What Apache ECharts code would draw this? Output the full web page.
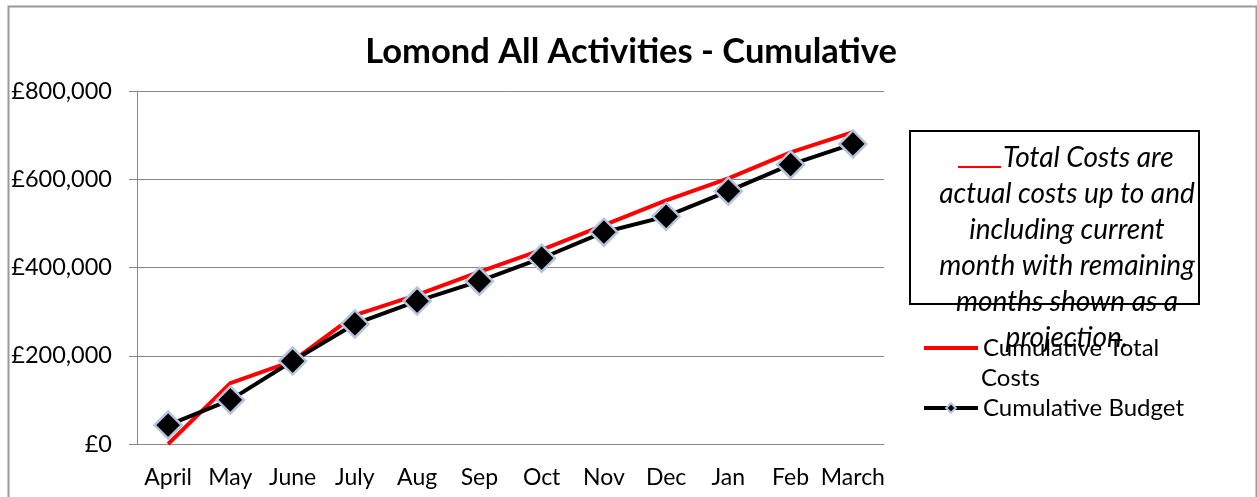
<!DOCTYPE html>
<html>
<head>
<meta charset="utf-8">
<script src="https://cdn.jsdelivr.net/npm/echarts@6/dist/echarts.min.js"></script>
<style>
  html, body { margin: 0; padding: 0; background: #fff; }
  #chart { width: 1257px; height: 497px; }
</style>
</head>
<body>
<div id="chart"></div>
<script>
const months = ["April", "May", "June", "July", "Aug", "Sep", "Oct", "Nov", "Dec", "Jan", "Feb", "March"];
const totalCosts = [0, 138000, 188000, 292000, 338000, 390000, 440000, 496000, 552000, 602000, 661000, 707000];
const budget = [43000, 100000, 188000, 272000, 324000, 369000, 421000, 480000, 516000, 573000, 633000, 680000];
const yTicks = [0, 200000, 400000, 600000, 800000];

const noteLines = [
  "Total Costs are",
  "actual costs up to and",
  "including current",
  "month with remaining",
  "months shown as a",
  "projection."
];

const chart = echarts.init(document.getElementById("chart"));

const fmtPound = (v) => "£" + v.toLocaleString("en-GB");

chart.setOption({
  animation: false,
  backgroundColor: "#fff",
  title: {
    text: "Lomond All Activities - Cumulative",
    left: 626,
    textAlign: "center",
    top: 29,
    textStyle: { fontFamily: "Lato", fontWeight: "bold", fontSize: 34.5, color: "#000" }
  },
  grid: { left: 137, right: 373, top: 91, bottom: 53 },
  xAxis: {
    type: "category",
    data: months,
    boundaryGap: true,
    axisLine: { lineStyle: { color: "#888", width: 1 } },
    axisTick: { show: false },
    axisLabel: { color: "#000", fontFamily: "Lato", fontSize: 23, margin: 22, interval: 0 }
  },
  yAxis: {
    type: "value",
    min: yTicks[0],
    max: yTicks[yTicks.length - 1],
    interval: 200000,
    axisLine: { show: true, lineStyle: { color: "#888", width: 1 } },
    axisTick: { show: true, length: 8, lineStyle: { color: "#888" } },
    axisLabel: { color: "#000", fontFamily: "Lato", fontSize: 23.5, margin: 25, formatter: fmtPound },
    splitLine: { lineStyle: { color: "#888", width: 1 } }
  },
  legend: {
    orient: "vertical",
    left: 922,
    top: 333,
    padding: 0,
    itemWidth: 54,
    itemHeight: 12,
    itemGap: 30,
    textStyle: { fontFamily: "Lato", fontSize: 24, color: "#000", lineHeight: 30 },
    formatter: (name) => name === "Cumulative Total Costs" ? "Cumulative Total" : name,
    data: [
      { name: "Cumulative Total Costs", itemStyle: { opacity: 0 }, lineStyle: { width: 4 } },
      { name: "Cumulative Budget", lineStyle: { width: 4 } }
    ]
  },
  series: [
    {
      name: "Cumulative Total Costs",
      type: "line",
      data: totalCosts,
      symbol: "none",
      lineStyle: { color: "#ff0000", width: 4 },
      itemStyle: { color: "#ff0000" },
      z: 2
    },
    {
      name: "Cumulative Budget",
      type: "line",
      data: budget,
      symbol: "diamond",
      symbolSize: 27,
      lineStyle: { color: "#000", width: 4 },
      itemStyle: { color: "#000", borderColor: "#b4c4dc", borderWidth: 2.5 },
      z: 3
    }
  ],
  graphic: [
    {
      type: "rect",
      left: 909, top: 130,
      shape: { width: 289, height: 173 },
      style: { fill: "#fff", stroke: "#000", lineWidth: 2 },
      z: 10
    },
    {
      type: "line",
      shape: { x1: 958, y1: 167, x2: 1001, y2: 167 },
      style: { stroke: "#ff0000", lineWidth: 2 },
      z: 11
    },
    ...noteLines.map((line, i) => ({
      type: "text",
      x: i === 0 ? 1003 : 1067,
      y: 158 + i * 36,
      style: {
        text: line,
        fill: "#000",
        font: "italic 28px Lato",
        textAlign: i === 0 ? "left" : "center",
        textVerticalAlign: "middle"
      },
      z: 12
    })),
    {
      type: "text",
      x: 981,
      y: 378,
      style: { text: "Costs", fill: "#000", font: "24px Lato", textVerticalAlign: "middle" },
      z: 12
    },
    {
      type: "rect",
      left: 6, top: 4,
      shape: { width: 1248, height: 500 },
      style: { fill: "none", stroke: "#999", lineWidth: 2 },
      z: 0,
      silent: true
    }
  ]
});
</script>
</body>
</html>
